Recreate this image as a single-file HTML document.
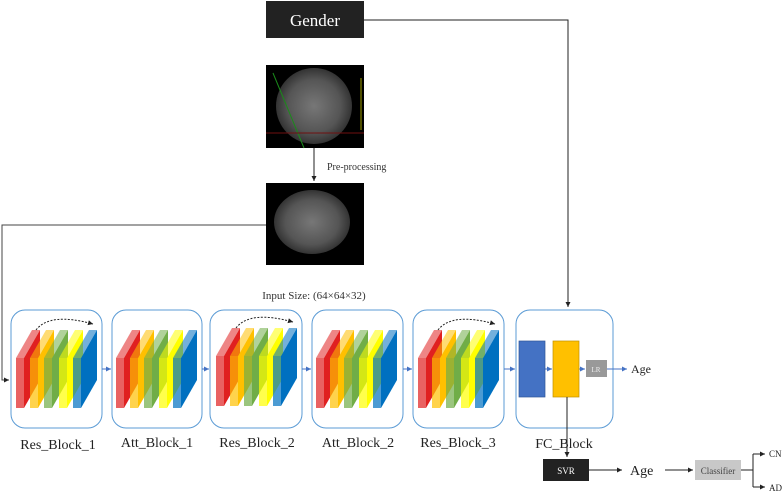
<!DOCTYPE html>
<html><head><style>body{margin:0;background:#fff}svg{display:block}text{font-family:"Liberation Serif",serif}</style></head><body>
<svg width="784" height="491" viewBox="0 0 784 491" xmlns="http://www.w3.org/2000/svg">
<defs>
<marker id="ak" markerWidth="6" markerHeight="6" refX="5" refY="3" orient="auto"><path d="M0,0.5 L5,3 L0,5.5z" fill="#222"/></marker>
<marker id="ab" markerWidth="6" markerHeight="6" refX="5" refY="3" orient="auto"><path d="M0,0.5 L5,3 L0,5.5z" fill="#4472c4"/></marker>
<radialGradient id="br" cx="50%" cy="50%" r="50%"><stop offset="0" stop-color="#777"/><stop offset="0.7" stop-color="#555"/><stop offset="1" stop-color="#333"/></radialGradient>
<g id="L"><path d="M0,28 L16,0 L24,0 L8,28z" fill-opacity="0.55"/><path d="M8,28 L24,0 L24,50 L8,78z"/><rect x="0" y="28" width="8" height="50" fill-opacity="0.7"/></g>
<g id="stack">
<use href="#L" fill="#e02020" x="0"/><use href="#L" fill="#ffc000" x="14"/><use href="#L" fill="#70ad47" x="28"/><use href="#L" fill="#ffff00" x="43"/><use href="#L" fill="#0070c0" x="57"/>
</g>
</defs>
<!-- Gender -->
<rect x="266" y="1" width="98" height="37" fill="#222"/>
<text x="315" y="26" font-size="17" fill="#fff" text-anchor="middle">Gender</text>
<path d="M364,20 H568 V307" fill="none" stroke="#222" stroke-width="1" marker-end="url(#ak)"/>
<!-- images -->
<rect x="266" y="65" width="98" height="83" fill="#000"/>
<ellipse cx="314" cy="106" rx="38" ry="38" fill="url(#br)"/>
<line x1="273" y1="73" x2="304" y2="148" stroke="#1a8a1a"/>
<line x1="266" y1="133" x2="364" y2="133" stroke="#701010"/>
<line x1="361" y1="78" x2="361" y2="130" stroke="#a0a000"/>
<rect x="266" y="183" width="98" height="82" fill="#000"/>
<ellipse cx="312" cy="222" rx="38" ry="32" fill="url(#br)"/>
<path d="M314,148 V181" stroke="#222" marker-end="url(#ak)"/>
<text x="327" y="170" font-size="10" fill="#333">Pre-processing</text>
<text x="314" y="299" font-size="11" fill="#333" text-anchor="middle">Input Size: (64×64×32)</text>
<path d="M266,225 H2 V380 H9" fill="none" stroke="#444" marker-end="url(#ak)"/>
<!-- blocks -->
<g fill="none" stroke="#5b9bd5" stroke-width="1">
<rect x="11" y="310" width="91" height="118" rx="14"/>
<rect x="112" y="310" width="90" height="118" rx="14"/>
<rect x="210" y="310" width="92" height="118" rx="14"/>
<rect x="312" y="310" width="91" height="118" rx="14"/>
<rect x="413" y="310" width="91" height="118" rx="14"/>
<rect x="516" y="310" width="97" height="118" rx="14"/>
</g>
<use href="#stack" x="16" y="330"/><use href="#stack" x="116" y="330"/><use href="#stack" x="216" y="328"/><use href="#stack" x="316" y="330"/><use href="#stack" x="418" y="330"/>
<g fill="none" stroke="#222" stroke-dasharray="2,1.5">
<path d="M36,330 Q50,312 93,324" marker-end="url(#ak)"/>
<path d="M236,328 Q250,310 293,322" marker-end="url(#ak)"/>
<path d="M438,330 Q452,312 495,324" marker-end="url(#ak)"/>
</g>
<g stroke="#4472c4" marker-end="url(#ab)">
<line x1="102" y1="369" x2="111" y2="369"/><line x1="202" y1="369" x2="209" y2="369"/><line x1="302" y1="369" x2="311" y2="369"/><line x1="403" y1="369" x2="412" y2="369"/><line x1="504" y1="369" x2="515" y2="369"/>
<line x1="545" y1="369" x2="552" y2="369"/><line x1="579" y1="369" x2="585" y2="369"/><line x1="607" y1="369" x2="627" y2="369"/>
</g>
<rect x="519" y="341" width="26" height="56" fill="#4472c4" stroke="#2f5597" stroke-width="0.7"/>
<rect x="553" y="341" width="26" height="56" fill="#ffc000" stroke="#c09000" stroke-width="0.7"/>
<rect x="586" y="360" width="21" height="17" fill="#999"/>
<text x="596" y="372" font-size="7" fill="#eee" text-anchor="middle">LR</text>
<text x="631" y="373" font-size="12" fill="#222">Age</text>
<g font-size="14" fill="#222" text-anchor="middle">
<text x="58" y="449">Res_Block_1</text><text x="157" y="447">Att_Block_1</text><text x="257" y="447">Res_Block_2</text><text x="358" y="447">Att_Block_2</text><text x="458" y="447">Res_Block_3</text><text x="564" y="448">FC_Block</text>
</g>
<path d="M567,397 V457" stroke="#222" marker-end="url(#ak)"/>
<rect x="543" y="459" width="46" height="22" fill="#222"/>
<text x="566" y="474" font-size="9" fill="#fff" text-anchor="middle">SVR</text>
<path d="M589,470 H622" stroke="#222" marker-end="url(#ak)"/>
<text x="630" y="475" font-size="14" fill="#222">Age</text>
<path d="M665,470 H693" stroke="#222" marker-end="url(#ak)"/>
<rect x="695" y="460" width="46" height="20" fill="#c8c8c8"/>
<text x="718" y="474" font-size="9" fill="#444" text-anchor="middle">Classifier</text>
<path d="M741,470 H753 M753,454 V487 M753,454 H764 M753,487 H764" fill="none" stroke="#222"/>
<path d="M753,454 H765" stroke="#222" marker-end="url(#ak)"/><path d="M753,487 H765" stroke="#222" marker-end="url(#ak)"/>
<text x="769" y="457" font-size="9" fill="#222">CN</text>
<text x="769" y="491" font-size="9" fill="#222">AD</text>
</svg>
</body></html>
